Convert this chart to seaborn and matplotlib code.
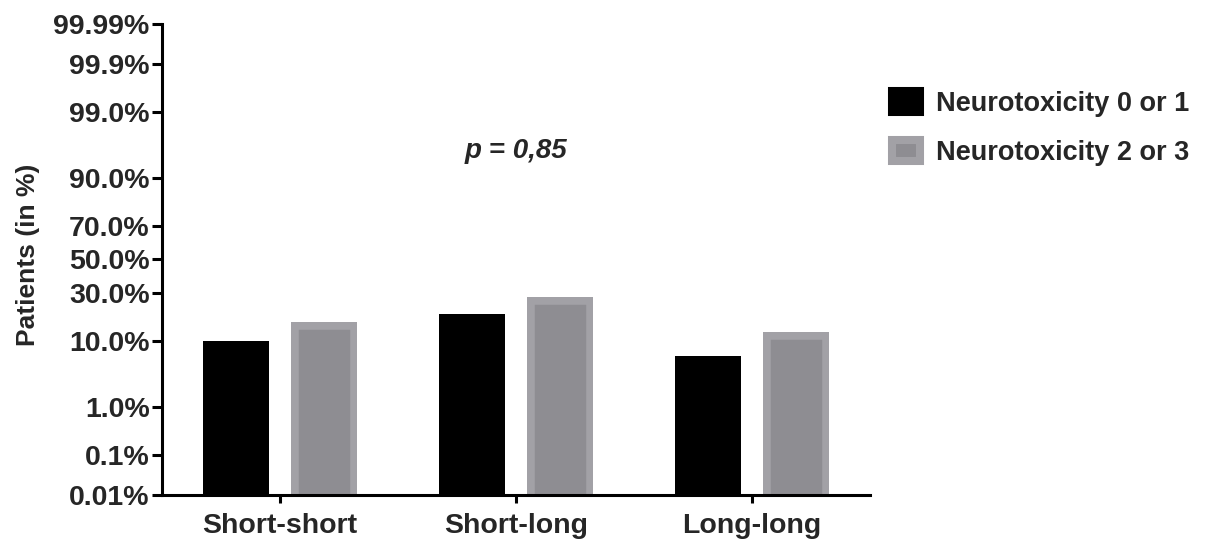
import math
from statistics import NormalDist
import numpy as np
import pandas as pd
import matplotlib
matplotlib.use("Agg")
import matplotlib.pyplot as plt
from matplotlib.patches import Patch
from matplotlib.ticker import FixedLocator, FixedFormatter, NullLocator
import seaborn as sns

# ---------------- data ----------------
groups = ["Short-short", "Short-long", "Long-long"]
series = ["Neurotoxicity 0 or 1", "Neurotoxicity 2 or 3"]
tox01 = [10.0, 19.5, 6.4]     # % patients
tox23 = [16.0, 27.5, 12.7]    # % patients
ytick_values = [0.01, 0.1, 1.0, 10.0, 30.0, 50.0, 70.0, 90.0, 99.0, 99.9, 99.99]
ytick_labels = ["0.01%", "0.1%", "1.0%", "10.0%", "30.0%", "50.0%", "70.0%",
                "90.0%", "99.0%", "99.9%", "99.99%"]
p_text = "p = 0,85"

df = pd.DataFrame({
    "Group": groups * 2,
    "Patients": tox01 + tox23,
    "Toxicity": [series[0]] * 3 + [series[1]] * 3,
})

# ---------------- style ----------------
sns.set_style("white")
plt.rcParams["font.family"] = ["Liberation Sans", "DejaVu Sans"]
plt.rcParams["font.weight"] = "bold"

BLACK = "#000000"
GRAY_IN = "#8e8d92"
GRAY_OUT = "#a2a1a6"
LW_AX = 2.2

fig = plt.figure(figsize=(12.07, 5.39), dpi=100)
ax = fig.add_axes([162 / 1207, 44 / 539, (870 - 162) / 1207, (495 - 24) / 539])

sns.barplot(data=df, x="Group", y="Patients", hue="Toxicity", order=groups,
            hue_order=series, palette=[BLACK, GRAY_IN], saturation=1,
            width=0.75, gap=0.25, errorbar=None, legend=False, ax=ax)

# probability (probit) scale
LO, HI = 1e-6, 1 - 1e-6
_ppf = np.vectorize(lambda p: NormalDist().inv_cdf(p), otypes=[float])
_cdf = np.vectorize(lambda z: 0.5 * (1 + math.erf(z / math.sqrt(2))), otypes=[float])


def forward(x):
    x = np.asarray(x, dtype=float)
    return _ppf(np.clip(x / 100.0, LO, HI))


def inverse(z):
    z = np.asarray(z, dtype=float)
    return _cdf(z) * 100.0


ax.set_yscale("function", functions=(forward, inverse))
ax.set_ylim(0.01, 99.99)
ax.set_xlim(-0.5, 2.5)
ax.yaxis.set_major_locator(FixedLocator(ytick_values))
ax.yaxis.set_major_formatter(FixedFormatter(ytick_labels))
ax.yaxis.set_minor_locator(NullLocator())

# bars styling
for bar in ax.containers[0]:
    bar.set_linewidth(0)
for bar in ax.containers[1]:
    bar.set_edgecolor(GRAY_OUT)
    bar.set_linewidth(10.5)
    # keep axes clip box, add clip to the bar's own outline (inner half of stroke)
    bar.set_clip_path(bar.get_path(), bar.get_transform())

# axes styling
for s in ["top", "right"]:
    ax.spines[s].set_visible(False)
for s in ["left", "bottom"]:
    ax.spines[s].set_linewidth(LW_AX)
    ax.spines[s].set_color("black")
    ax.spines[s].set_zorder(5)
ax.tick_params(axis="y", which="major", direction="out", length=7, width=LW_AX,
               labelsize=20.5, pad=2, color="black", left=True)
ax.tick_params(axis="x", which="major", direction="out", length=6, width=LW_AX,
               labelsize=20.5, pad=7, color="black", bottom=True)
for lab in ax.get_xticklabels() + ax.get_yticklabels():
    lab.set_fontweight("bold")

ax.set_xlabel("")
ax.set_ylabel("Patients (in %)", fontsize=19, fontweight="bold")
ax.yaxis.set_label_coords(-0.173, 0.51)

ax.text(0.5, 0.73, p_text, transform=ax.transAxes, ha="center", va="center",
        fontsize=20, fontweight="bold", fontstyle="italic")

handles = [Patch(facecolor=BLACK, edgecolor=BLACK, linewidth=5.8),
           Patch(facecolor=GRAY_IN, edgecolor=GRAY_OUT, linewidth=5.8)]
leg = fig.legend(handles=handles, labels=series, loc="upper left",
                 bbox_to_anchor=(892 / 1207, 1 - 91 / 539), frameon=False,
                 fontsize=19.5, handlelength=1.02, handleheight=0.8,
                 handletextpad=0.62, labelspacing=0.84, borderaxespad=0,
                 borderpad=0)
for t in leg.get_texts():
    t.set_fontweight("bold")

fig.savefig("out.png", dpi=100)
